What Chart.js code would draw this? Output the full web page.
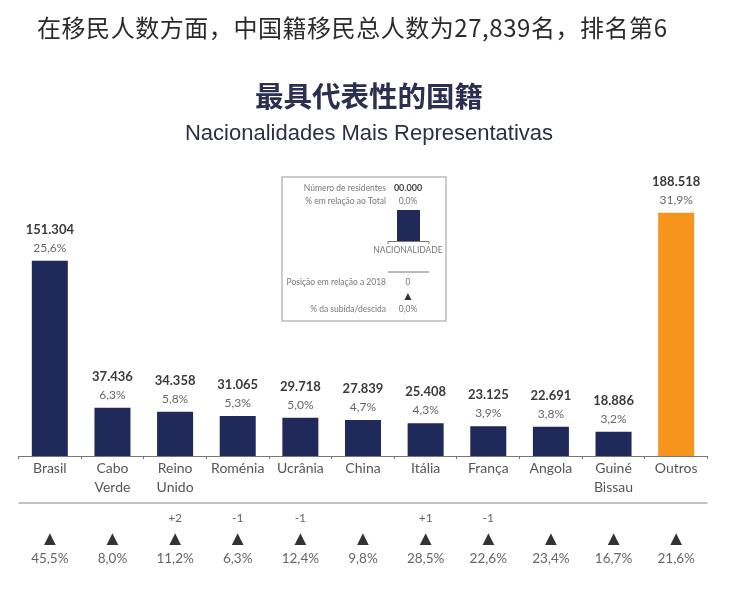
<!DOCTYPE html>
<html>
<head>
<meta charset="utf-8">
<style>
    html, body { margin: 0; padding: 0; background: #fff; }
    #page { position: relative; width: 734px; height: 589px; overflow: hidden; }
    #chart { position: absolute; left: 0; top: 0; }
    .head { position: absolute; white-space: nowrap; }
    #intro { left: 37px; top: 9px; font: 400 24px "Noto Sans CJK SC", sans-serif; letter-spacing: 0.55px; color: #2b2b2b; }
    #title { left: 0; width: 738px; text-align: center; top: 74px; font: 700 28.5px "Noto Sans CJK SC", sans-serif; color: #2b3050; }
    #subtitle { left: 0; width: 738px; text-align: center; top: 120px; font: 22px "Liberation Sans", sans-serif; color: #2b3045; }
</style>
</head>
<body>
<div id="page">
    <canvas id="chart" width="734" height="589"></canvas>
    <div class="head" id="intro">在移民人数方面，中国籍移民总人数为27,839名，排名第6</div>
    <div class="head" id="title">最具代表性的国籍</div>
    <div class="head" id="subtitle">Nacionalidades Mais Representativas</div>
</div>
<script src="https://cdn.jsdelivr.net/npm/chart.js@4/dist/chart.umd.min.js"></script>
<script>
// Chart data
const categories = [['Brasil'], ['Cabo', 'Verde'], ['Reino', 'Unido'], ['Roménia'], ['Ucrânia'], ['China'],
    ['Itália'], ['França'], ['Angola'], ['Guiné', 'Bissau'], ['Outros']];
const residents = [151304, 37436, 34358, 31065, 29718, 27839, 25408, 23125, 22691, 18886, 188518];
const shareOfTotal = ['25,6%', '6,3%', '5,8%', '5,3%', '5,0%', '4,7%', '4,3%', '3,9%', '3,8%', '3,2%', '31,9%'];
const rankChange = ['', '', '+2', '-1', '-1', '', '+1', '-1', '', '', ''];
const growth = ['45,5%', '8,0%', '11,2%', '6,3%', '12,4%', '9,8%', '28,5%', '22,6%', '23,4%', '16,7%', '21,6%'];
const barColors = ['#1f2a5a', '#1f2a5a', '#1f2a5a', '#1f2a5a', '#1f2a5a', '#1f2a5a', '#1f2a5a', '#1f2a5a', '#1f2a5a', '#1f2a5a', '#f7941d'];

const FONT = 'Lato, "Open Sans", sans-serif';

function drawText(ctx, text, x, y, font, color, align) {
    ctx.font = font;
    ctx.fillStyle = color;
    ctx.textAlign = align || 'center';
    ctx.textBaseline = 'middle';
    ctx.fillText(text, x, y);
}

// Numbers above the bars and the rows under the axis
const labelsPlugin = {
    id: 'labels',
    afterDatasetsDraw(chart) {
        const ctx = chart.ctx;
        const xScale = chart.scales.x;
        const yScale = chart.scales.y;
        ctx.save();
        residents.forEach((value, i) => {
            const x = xScale.getPixelForValue(i);
            const top = yScale.getPixelForValue(value);
            const text = String(value).replace(/\B(?=(\d{3})+$)/g, '.');
            drawText(ctx, text, x, top - 31, `700 13px ${FONT}`, '#3a3a3a');
            drawText(ctx, shareOfTotal[i], x, top - 13, `12px ${FONT}`, '#666');
            if (rankChange[i]) drawText(ctx, rankChange[i], x, 518, `12px ${FONT}`, '#666');
            drawText(ctx, '▲', x, 539, `20px ${FONT}`, '#333');
            drawText(ctx, growth[i], x, 559, `13.5px ${FONT}`, '#666');
        });

        // Rule under the category names
        ctx.strokeStyle = '#888';
        ctx.lineWidth = 1.2;
        ctx.beginPath();
        ctx.moveTo(xScale.left, 503);
        ctx.lineTo(xScale.right, 503);
        ctx.stroke();
        ctx.restore();
    }
};

// Small key box in the middle of the chart
const keyPlugin = {
    id: 'key',
    afterDraw(chart) {
        const ctx = chart.ctx;
        const grey = '#777';
        ctx.save();
        ctx.strokeStyle = '#aaa';
        ctx.lineWidth = 1.2;
        ctx.strokeRect(282, 177, 164, 144);

        drawText(ctx, 'Número de residentes', 386, 188, `8.5px ${FONT}`, grey, 'right');
        drawText(ctx, '00.000', 408, 188, `700 9px ${FONT}`, '#444');
        drawText(ctx, '% em relação ao Total', 386, 201, `8.5px ${FONT}`, grey, 'right');
        drawText(ctx, '0,0%', 408, 201, `8.5px ${FONT}`, grey);

        ctx.fillStyle = '#1f2a5a';
        ctx.fillRect(397, 210, 23, 31);

        ctx.strokeStyle = '#777';
        ctx.lineWidth = 1;
        ctx.beginPath();
        ctx.moveTo(388, 244);
        ctx.lineTo(388, 241.5);
        ctx.lineTo(429, 241.5);
        ctx.lineTo(429, 244);
        ctx.stroke();
        drawText(ctx, 'NACIONALIDADE', 408, 250, `8.5px ${FONT}`, grey);

        ctx.beginPath();
        ctx.moveTo(388, 272);
        ctx.lineTo(429, 272);
        ctx.stroke();
        drawText(ctx, 'Posição em relação a 2018', 386, 282, `8.5px ${FONT}`, grey, 'right');
        drawText(ctx, '0', 408, 282, `8.5px ${FONT}`, grey);
        drawText(ctx, '▲', 408, 296, `12px ${FONT}`, '#333');
        drawText(ctx, '% da subida/descida', 386, 309, `8.5px ${FONT}`, grey, 'right');
        drawText(ctx, '0,0%', 408, 309, `8.5px ${FONT}`, grey);
        ctx.restore();
    }
};

new Chart(document.getElementById('chart').getContext('2d'), {
    type: 'bar',
    data: {
        labels: categories,
        datasets: [{
            data: residents,
            backgroundColor: barColors,
            barPercentage: 0.575,
            categoryPercentage: 1
        }]
    },
    options: {
        responsive: false,
        animation: false,
        layout: { padding: { left: 18.5, right: 26.5, top: 160, bottom: 0 } },
        plugins: {
            legend: { display: false },
            tooltip: { enabled: false }
        },
        scales: {
            x: {
                afterFit: scale => { scale.height = 133; },
                border: { color: '#777', width: 1 },
                grid: { color: '#777', drawOnChartArea: false, tickLength: 3 },
                ticks: {
                    autoSkip: false,
                    maxRotation: 0,
                    padding: 0,
                    color: '#555',
                    font: { family: FONT, size: 14, lineHeight: 1.36 }
                }
            },
            y: { display: false, min: 0, max: 229500 }
        }
    },
    plugins: [labelsPlugin, keyPlugin]
});
</script>
</body>
</html>
